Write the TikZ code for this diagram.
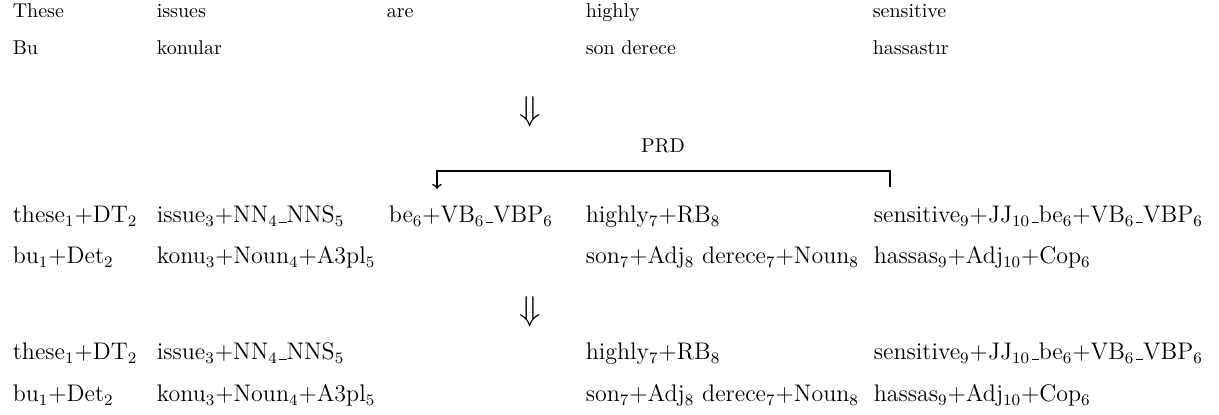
\documentclass[tikz,border=0pt]{standalone}
\usepackage{amsmath}
\usepackage{amssymb}
\usepackage{tikz}
\usetikzlibrary{calc, positioning}

% tiret bas court, comme dans la police d'origine
\newcommand{\tiret}{\leavevmode\kern.06em\vbox{\hrule width.3em}}

\begin{document}
\begin{tikzpicture}[->,>=to,thick,x=0.5pt,y=-0.5pt,
                    mot/.style={anchor=base west,inner sep=0pt},
                    morph/.style={mot,font=\large},
                    fleche/.style={inner sep=0pt,font=\LARGE}]
                \useasboundingbox (0,0) rectangle (1219,415);

                % Phrase anglaise et sa traduction
                \node[mot] (a1) at (12,18) {These};
                \node[mot] (a2) at (156,18) {issues};
                \node[mot] (a3) at (386,18) {are};
                \node[mot] (a4) at (585,18) {highly};
                \node[mot] (a5) at (872,18) {sensitive};
                \node[mot] (b1) at (12,55) {Bu};
                \node[mot] (b2) at (156,55) {konular};
                \node[mot] (b4) at (585,55) {son derece};
                \node[mot] (b5) at (872,55) {hassastır};

                \node[fleche] (f1) at (530,112) {$\Downarrow$};

                % Analyse morphologique
                \node[morph] (c1) at (12,223) {these$_1$+DT$_2$};
                \node[morph] (c2) at (156,223) {issue$_3$+NN$_4$\tiret NNS$_5$};
                \node[morph] (c3) at (388,223) {be$_6$+VB$_6$\tiret VBP$_6$};
                \node[morph] (c4) at (585,223) {highly$_7$+RB$_8$};
                \node[morph] (c5) at (873,223) {sensitive$_9$+JJ$_{10}$\tiret be$_6$+VB$_6$\tiret VBP$_6$};
                \node[morph] (d1) at (12,264) {bu$_1$+Det$_2$};
                \node[morph] (d2) at (156,264) {konu$_3$+Noun$_4$+A3pl$_5$};
                \node[morph] (d4) at (585,264) {son$_7$+Adj$_8$ derece$_7$+Noun$_8$};
                \node[morph] (d5) at (873,264) {hassas$_9$+Adj$_{10}$+Cop$_6$};

                % Regle PRD : be va vers sensitive
                \coordinate (hg) at (437,171);
                \coordinate (hd) at (890,171);
                \coordinate (bg) at (437,189);
                \coordinate (bd) at (890,187);
                \node[inner sep=0pt,anchor=base] (prd) at (663,153) {PRD};
                \draw (bd) -- (hd) -- (hg) -- (bg);

                \node[fleche] (f2) at (530,312) {$\Downarrow$};

                % Resultat
                \node[morph] (e1) at (12,360) {these$_1$+DT$_2$};
                \node[morph] (e2) at (156,360) {issue$_3$+NN$_4$\tiret NNS$_5$};
                \node[morph] (e4) at (585,360) {highly$_7$+RB$_8$};
                \node[morph] (e5) at (873,360) {sensitive$_9$+JJ$_{10}$\tiret be$_6$+VB$_6$\tiret VBP$_6$};
                \node[morph] (g1) at (12,402) {bu$_1$+Det$_2$};
                \node[morph] (g2) at (156,402) {konu$_3$+Noun$_4$+A3pl$_5$};
                \node[morph] (g4) at (585,402) {son$_7$+Adj$_8$ derece$_7$+Noun$_8$};
                \node[morph] (g5) at (873,402) {hassas$_9$+Adj$_{10}$+Cop$_6$};
              \end{tikzpicture}
\end{document}
